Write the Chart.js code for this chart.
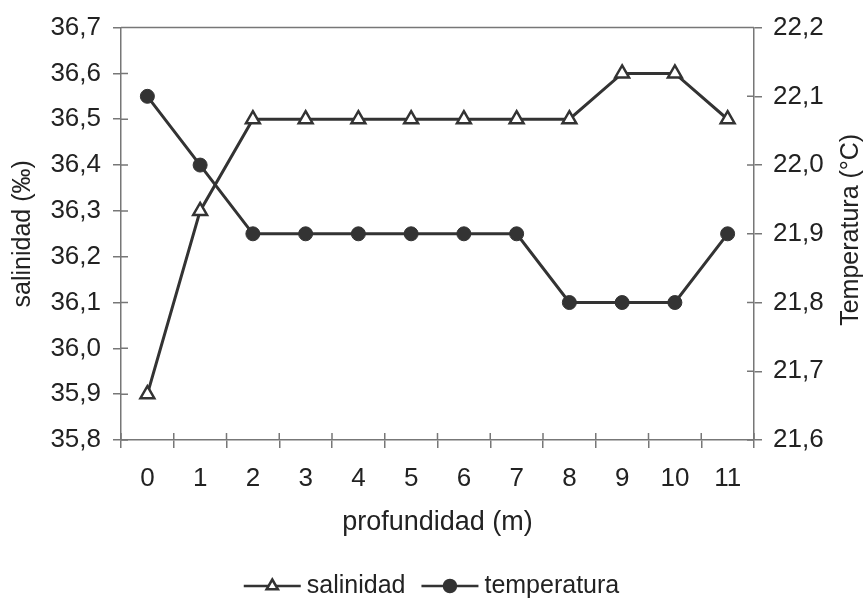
<!DOCTYPE html>
<html>
<head>
<meta charset="utf-8">
<script src="https://cdn.jsdelivr.net/npm/chart.js@4.4.0/dist/chart.umd.min.js"></script>
<style>
  html, body { margin: 0; padding: 0; background: #fff; }
  #wrap { width: 863px; height: 599px; }
</style>
</head>
<body>
<div id="wrap"><canvas id="perfil"></canvas></div>
<script>
var profundidad = ['0', '1', '2', '3', '4', '5', '6', '7', '8', '9', '10', '11'];
var salinidad = [35.9, 36.3, 36.5, 36.5, 36.5, 36.5, 36.5, 36.5, 36.5, 36.6, 36.6, 36.5];
var temperatura = [22.1, 22.0, 21.9, 21.9, 21.9, 21.9, 21.9, 21.9, 21.8, 21.8, 21.8, 21.9];
var salTicks = [35.8, 35.9, 36.0, 36.1, 36.2, 36.3, 36.4, 36.5, 36.6, 36.7];
var tempTicks = [21.6, 21.7, 21.8, 21.9, 22.0, 22.1, 22.2];

var FONT = '"Liberation Sans", Arial, sans-serif';
var INK = '#333';
var AXIS = '#777';

function coma(v) {
  return Number(v).toFixed(1).replace('.', ',');
}

function drawMarker(ctx, style, x, y, r) {
  ctx.save();
  ctx.lineWidth = 2.5;
  ctx.strokeStyle = INK;
  ctx.beginPath();
  if (style === 'triangle') {
    ctx.moveTo(x, y - r);
    ctx.lineTo(x + r * 0.87, y + r * 0.5);
    ctx.lineTo(x - r * 0.87, y + r * 0.5);
    ctx.closePath();
    ctx.fillStyle = '#fff';
  } else {
    ctx.arc(x, y, r, 0, Math.PI * 2);
    ctx.fillStyle = INK;
  }
  ctx.fill();
  ctx.stroke();
  ctx.restore();
}

// ticks that cross the axis, titles, top border and the legend
var decor = {
  id: 'decor',
  afterDraw: function (chart) {
    var ctx = chart.ctx;
    var area = chart.chartArea;
    var sx = chart.scales.x, sy = chart.scales.y, sy1 = chart.scales.y1;

    ctx.save();
    ctx.strokeStyle = AXIS;
    ctx.lineWidth = 1.5;
    ctx.beginPath();
    ctx.moveTo(area.left, area.top);
    ctx.lineTo(area.right, area.top);
    sy.ticks.forEach(function (t, i) {
      var py = sy.getPixelForTick(i);
      ctx.moveTo(area.left, py);
      ctx.lineTo(area.left + 7, py);
    });
    sy1.ticks.forEach(function (t, i) {
      var py = sy1.getPixelForTick(i);
      ctx.moveTo(area.right - 7, py);
      ctx.lineTo(area.right, py);
    });
    var half = (sx.getPixelForTick(1) - sx.getPixelForTick(0)) / 2;
    for (var i = 0; i <= sx.ticks.length; i++) {
      var px = sx.getPixelForTick(0) - half + i * half * 2;
      ctx.moveTo(px, area.bottom);
      ctx.lineTo(px, area.bottom - 7);
    }
    ctx.stroke();

    // axis titles
    ctx.fillStyle = '#222';
    ctx.textAlign = 'center';
    ctx.textBaseline = 'middle';
    ctx.font = '27px ' + FONT;
    ctx.fillText('profundidad (m)', (area.left + area.right) / 2, 523);

    ctx.font = '25px ' + FONT;
    ctx.save();
    ctx.translate(23, (area.top + area.bottom) / 2);
    ctx.rotate(-Math.PI / 2);
    ctx.fillText('salinidad (‰)', 0, 0);
    ctx.restore();

    ctx.save();
    ctx.translate(851, (area.top + area.bottom) / 2 - 4);
    ctx.rotate(-Math.PI / 2);
    ctx.fillText('Temperatura (°C)', 0, 0);
    ctx.restore();

    // legend
    var symW = 57, gapText = 6, gapItem = 16;
    ctx.textAlign = 'left';
    var sets = chart.data.datasets;
    var total = 0;
    sets.forEach(function (ds, k) {
      total += symW + gapText + ctx.measureText(ds.label).width;
      if (k > 0) total += gapItem;
    });
    var x = (chart.width - total) / 2;
    var y = 586;
    sets.forEach(function (ds) {
      ctx.strokeStyle = INK;
      ctx.lineWidth = 2.5;
      ctx.beginPath();
      ctx.moveTo(x, y);
      ctx.lineTo(x + symW, y);
      ctx.stroke();
      drawMarker(ctx, ds.pointStyle, x + symW / 2, y, ds.pointStyle === 'triangle' ? 6.5 : 6);
      ctx.fillStyle = '#222';
      ctx.fillText(ds.label, x + symW + gapText, y);
      x += symW + gapText + ctx.measureText(ds.label).width + gapItem;
    });
    ctx.restore();
  }
};

var ctx = document.getElementById('perfil').getContext('2d');
var chart = new Chart(ctx, {
  type: 'line',
  data: {
    labels: profundidad,
    datasets: [
      {
        label: 'salinidad',
        data: salinidad,
        yAxisID: 'y',
        borderColor: INK,
        borderWidth: 3,
        pointStyle: 'triangle',
        pointRadius: 8,
        pointBorderWidth: 2.5,
        pointBackgroundColor: '#fff',
        pointBorderColor: INK,
        tension: 0
      },
      {
        label: 'temperatura',
        data: temperatura,
        yAxisID: 'y1',
        borderColor: INK,
        borderWidth: 3,
        pointStyle: 'circle',
        pointRadius: 7,
        pointBorderWidth: 1,
        pointBackgroundColor: INK,
        pointBorderColor: INK,
        tension: 0
      }
    ]
  },
  options: {
    responsive: true,
    maintainAspectRatio: false,
    animation: false,
    layout: { padding: { top: 27, left: 0, right: 0, bottom: 0 } },
    plugins: {
      legend: { display: false },
      tooltip: { enabled: false }
    },
    scales: {
      x: {
        type: 'category',
        offset: true,
        afterFit: function (s) { s.height = 159; },
        grid: { offset: true, drawOnChartArea: false, tickLength: 8, color: AXIS, lineWidth: 1.5 },
        border: { color: AXIS, width: 1.5 },
        ticks: { color: '#222', font: { family: FONT, size: 26 }, padding: 15, maxRotation: 0 }
      },
      y: {
        position: 'left',
        min: 35.8,
        max: 36.7,
        afterBuildTicks: function (s) { s.ticks = salTicks.map(function (v) { return { value: v }; }); },
        afterFit: function (s) { s.width = 121; },
        grid: { drawOnChartArea: false, tickLength: 8, color: AXIS, lineWidth: 1.5 },
        border: { color: AXIS, width: 1.5 },
        ticks: { color: '#222', font: { family: FONT, size: 26 }, padding: 12, callback: coma }
      },
      y1: {
        position: 'right',
        min: 21.6,
        max: 22.2,
        afterBuildTicks: function (s) { s.ticks = tempTicks.map(function (v) { return { value: v }; }); },
        afterFit: function (s) { s.width = 109; },
        grid: { drawOnChartArea: false, tickLength: 8, color: AXIS, lineWidth: 1.5 },
        border: { color: AXIS, width: 1.5 },
        ticks: { color: '#222', font: { family: FONT, size: 26 }, padding: 11, callback: coma }
      }
    }
  },
  plugins: [decor]
});
</script>
</body>
</html>
